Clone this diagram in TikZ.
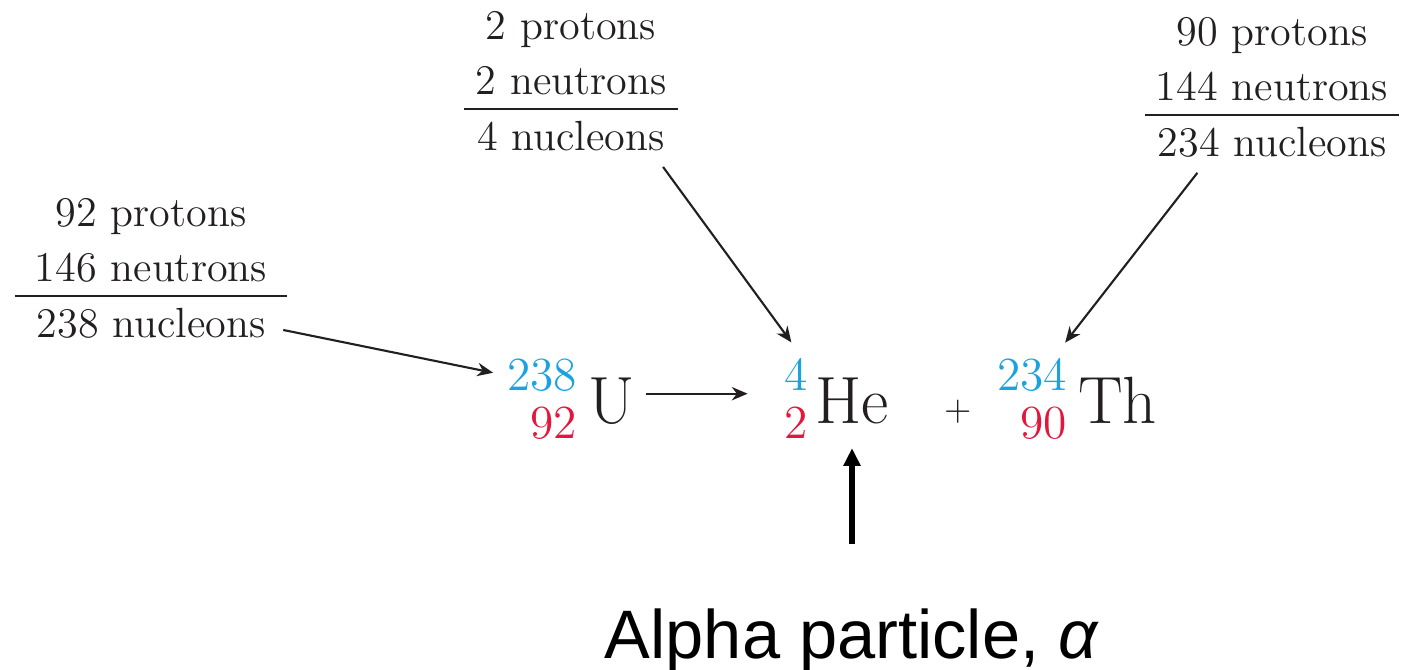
\documentclass[tikz,border=0pt]{standalone}
\usepackage{fontspec}
\newfontfamily\alphafont{Liberation Sans}
\usetikzlibrary{positioning,arrows.meta}
\definecolor{ink}{HTML}{231F20}
\definecolor{nucblue}{HTML}{1BA3DF}
\definecolor{nucred}{HTML}{E3173B}
\tikzset{
  >={Stealth[length=4.5pt,width=3.8pt]},
  lbl/.style={font=\fontsize{12}{14}\selectfont, text=ink, inner sep=0pt,
              text height=9pt, text depth=3pt},
  sumrule/.style={draw=ink, line width=0.6pt},
  ptr/.style={->, draw=ink, line width=0.6pt, shorten <=2pt, shorten >=4pt},
  sym/.style={font=\fontsize{19}{22}\selectfont, text=ink, inner sep=1pt,
              anchor=base west},
  massno/.style={font=\fontsize{13.5}{16}\selectfont, text=nucblue,
                 inner sep=1pt, anchor=base east},
  atomno/.style={massno, text=nucred},
  alphaptr/.style={-{Triangle[length=5pt,width=4.6pt]}, draw=black,
                   line width=1.7pt, shorten <=18pt, shorten >=5.8pt},
}

\begin{document}
\begin{tikzpicture}[x=0.01cm, y=-0.01cm, node distance=3.3pt]
    \useasboundingbox (0,0) rectangle (1404,669);

    % nucleon tallies
    \node[lbl, anchor=base] (lnuc) at (151,337) {238 nucleons};
    \node[lbl, above=of lnuc] (lneu) {146 neutrons};
    \node[lbl, above=of lneu] (lpro) {92 protons};
    \draw[sumrule] ([shift={(-6pt,2.5pt)}]lnuc.north west) -- ([shift={(6pt,2.5pt)}]lnuc.north east);

    \node[lbl, anchor=base] (mnuc) at (571,150) {4 nucleons};
    \node[lbl, above=of mnuc] (mneu) {2 neutrons};
    \node[lbl, above=of mneu] (mpro) {2 protons};
    \draw[sumrule] ([shift={(-3.5pt,2.5pt)}]mnuc.north west) -- ([shift={(3.5pt,2.5pt)}]mnuc.north east);

    \node[lbl, anchor=base] (rnuc) at (1272,156) {234 nucleons};
    \node[lbl, above=of rnuc] (rneu) {144 neutrons};
    \node[lbl, above=of rneu] (rpro) {90 protons};
    \draw[sumrule] ([shift={(-3.5pt,2.5pt)}]rnuc.north west) -- ([shift={(3.5pt,2.5pt)}]rnuc.north east);

    % the decay
    \node[sym] (uSym) at (584,423) {U};
    \node[massno] (uA) at (581,390) {238};
    \node[atomno] (uZ) at (581,438) {92};

    \node[sym] (hSym) at (811,423) {He};
    \node[massno] (hA) at (812,390) {4};
    \node[atomno] (hZ) at (812,438) {2};

    \node[font=\fontsize{10}{12}\selectfont, text=ink] (plus) at (958,412) {+};

    \node[sym] (tSym) at (1074,423) {Th};
    \node[massno] (tA) at (1071,390) {234};
    \node[atomno] (tZ) at (1071,438) {90};

    \node[font=\alphafont\fontsize{19.5}{22}\selectfont, inner sep=0pt, anchor=base] (alpha) at (852,658) {Alpha particle, \textit{α}};

    \draw[ptr, shorten <=5pt, shorten >=2.8pt] (lnuc.east) -- (uA.west);
    \draw[ptr] ([xshift=25pt]mnuc.south) -- ([xshift=1pt]hA.north);
    \draw[ptr] ([xshift=-20pt]rnuc.south) -- ([xshift=7pt]tA.north);
    \draw[ptr, shorten >=9.3pt] ([yshift=2pt]uSym.east) -- ([yshift=2pt]uSym.east -| hA.west);
    \draw[alphaptr] (alpha.north) -- (alpha.north |- hSym.south);
\end{tikzpicture}
\end{document}
